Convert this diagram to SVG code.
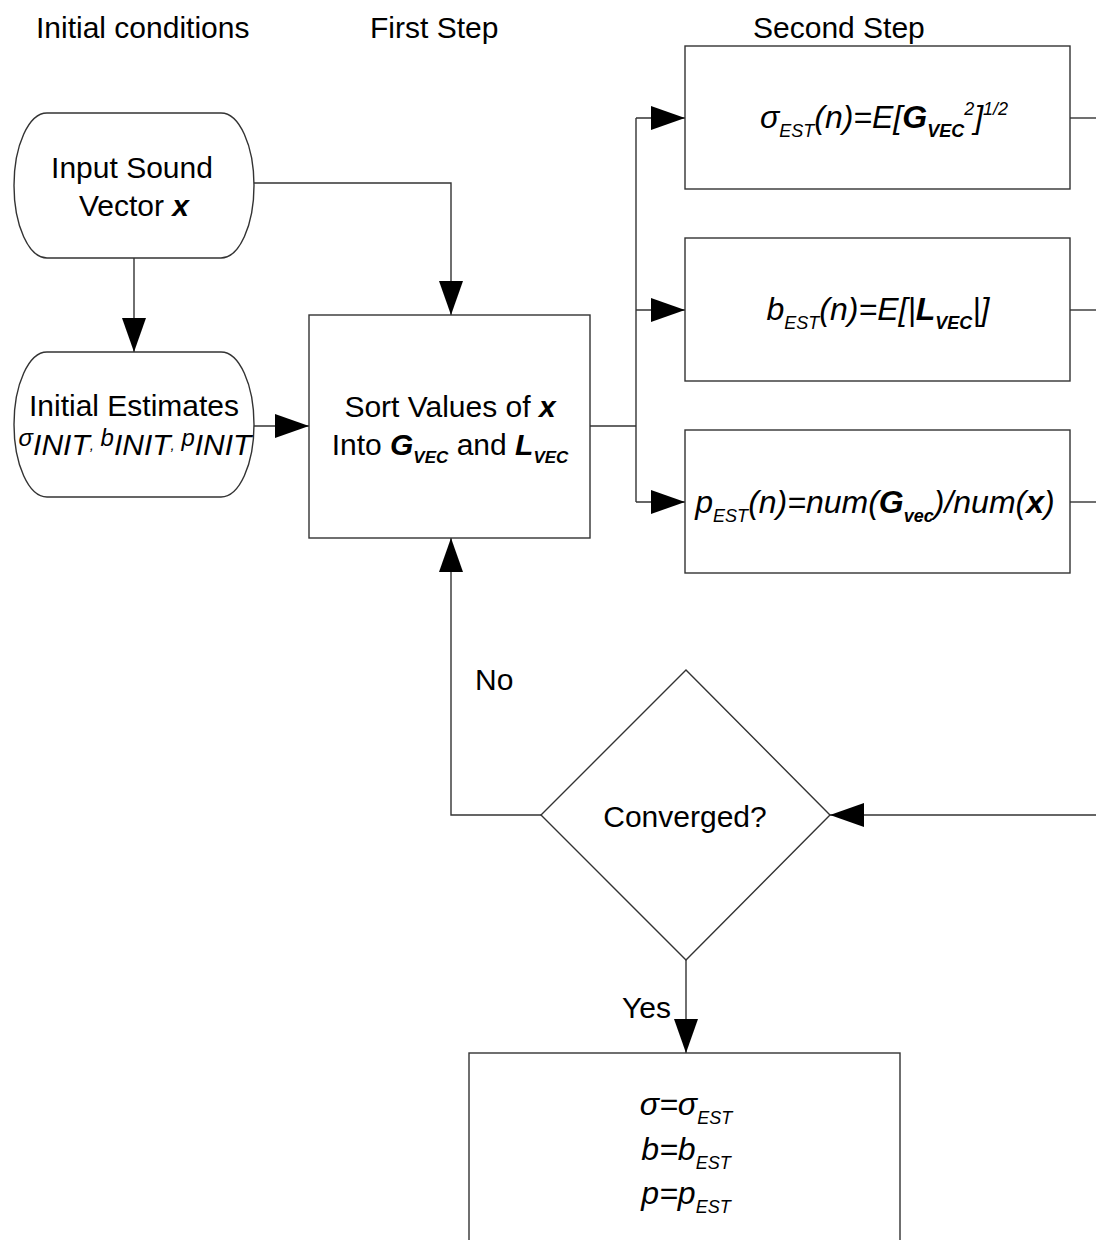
<svg xmlns="http://www.w3.org/2000/svg" width="1096" height="1240" viewBox="0 0 1096 1240">
<style>
text{font-family:"Liberation Sans",Arial,sans-serif;font-size:30px;fill:#000}
.c{text-anchor:middle}
.i{font-style:italic}
.f{font-style:italic;font-size:32px}
.bi{font-style:italic;font-weight:bold}
.node{fill:#fff;stroke:#333;stroke-width:1.4}
.conn{fill:none;stroke:#333;stroke-width:1.4}
</style>
<defs>
<marker id="ah" markerUnits="userSpaceOnUse" markerWidth="36" markerHeight="26" refX="34" refY="12" orient="auto">
<path d="M0,0 L34,12 L0,24 Z" fill="#000"/>
</marker>
</defs>
<rect width="1096" height="1240" fill="#fff"/>

<g id="headers">
<text x="36" y="38">Initial conditions</text>
<text x="370" y="38">First Step</text>
<text x="753" y="38">Second Step</text>
</g>

<g id="connectors">
<path class="conn" d="M134,258 V352" marker-end="url(#ah)"/>
<path class="conn" d="M254,183 H451 V315" marker-end="url(#ah)"/>
<path class="conn" d="M254,426 H309" marker-end="url(#ah)"/>
<path class="conn" d="M590,426 H636"/>
<path class="conn" d="M636,118 V502"/>
<path class="conn" d="M636,118 H685" marker-end="url(#ah)"/>
<path class="conn" d="M636,310 H685" marker-end="url(#ah)"/>
<path class="conn" d="M636,502 H685" marker-end="url(#ah)"/>
<path class="conn" d="M1070,118 H1096"/>
<path class="conn" d="M1070,310 H1096"/>
<path class="conn" d="M1070,502 H1096"/>
<path class="conn" d="M1096,815 H830" marker-end="url(#ah)"/>
<path class="conn" d="M541,815 H451 V538" marker-end="url(#ah)"/>
<path class="conn" d="M686,960 V1053" marker-end="url(#ah)"/>
</g>

<g id="input">
<path class="node" d="M47,113 H221 A33,72.5 0 0 1 221,258 H47 A33,72.5 0 0 1 47,113 Z"/>
<text class="c" x="132" y="178">Input Sound</text>
<text class="c" x="134" y="216">Vector <tspan class="bi">x</tspan></text>
</g>

<g id="initial">
<path class="node" d="M47,352 H221 A33,72.5 0 0 1 221,497 H47 A33,72.5 0 0 1 47,352 Z"/>
<text class="c" x="134" y="416">Initial Estimates</text>
<text class="c i" x="135" y="455"><tspan font-size="24" dy="-9">σ</tspan><tspan font-size="30" dy="9">INIT</tspan><tspan font-size="15" dy="-5">,</tspan><tspan font-size="24" dy="-4"> b</tspan><tspan font-size="30" dy="9">INIT</tspan><tspan font-size="15" dy="-5">,</tspan><tspan font-size="24" dy="-4">  p</tspan><tspan font-size="30" dy="9">INIT</tspan></text>
</g>

<g id="sort">
<rect class="node" x="309" y="315" width="281" height="223"/>
<text class="c" x="450" y="417">Sort Values of <tspan class="bi">x</tspan></text>
<text class="c" x="450" y="455">Into <tspan class="bi">G</tspan><tspan class="bi" font-size="17" dy="8">VEC</tspan><tspan dy="-8"> and </tspan><tspan class="bi">L</tspan><tspan class="bi" font-size="17" dy="8">VEC</tspan></text>
</g>

<g id="sigma-est">
<rect class="node" x="685" y="46" width="385" height="143"/>
<text class="c f" x="884" y="128">σ<tspan font-size="18" dy="9">EST</tspan><tspan dy="-9">(n)=E[</tspan><tspan class="bi">G</tspan><tspan class="bi" font-size="18" dy="9">VEC</tspan><tspan font-size="18" dy="-22">2</tspan><tspan dy="13">]</tspan><tspan font-size="18" dy="-13">1/2</tspan></text>
</g>

<g id="b-est">
<rect class="node" x="685" y="238" width="385" height="143"/>
<text class="c f" x="878" y="320">b<tspan font-size="18" dy="9">EST</tspan><tspan dy="-9">(n)=E[|</tspan><tspan class="bi">L</tspan><tspan class="bi" font-size="18" dy="9">VEC</tspan><tspan dy="-9">|]</tspan></text>
</g>

<g id="p-est">
<rect class="node" x="685" y="430" width="385" height="143"/>
<text class="c f" x="875" y="513">p<tspan font-size="18" dy="9">EST</tspan><tspan dy="-9">(n)=num(</tspan><tspan class="bi">G</tspan><tspan class="bi" font-size="18" dy="9">vec</tspan><tspan dy="-9">)/num(</tspan><tspan class="bi">x</tspan><tspan>)</tspan></text>
</g>

<g id="converged">
<path class="node" d="M686,670 L830,815 L686,960 L541,815 Z"/>
<text class="c" x="685" y="827">Converged?</text>
</g>

<g id="labels">
<text x="475" y="690">No</text>
<text x="622" y="1018">Yes</text>
</g>

<g id="output">
<rect class="node" x="469" y="1053" width="431" height="200"/>
<text class="c f" x="686" y="1115">σ=σ<tspan font-size="18" dy="9">EST</tspan></text>
<text class="c f" x="686" y="1160">b=b<tspan font-size="18" dy="9">EST</tspan></text>
<text class="c f" x="686" y="1204">p=p<tspan font-size="18" dy="9">EST</tspan></text>
</g>
</svg>
